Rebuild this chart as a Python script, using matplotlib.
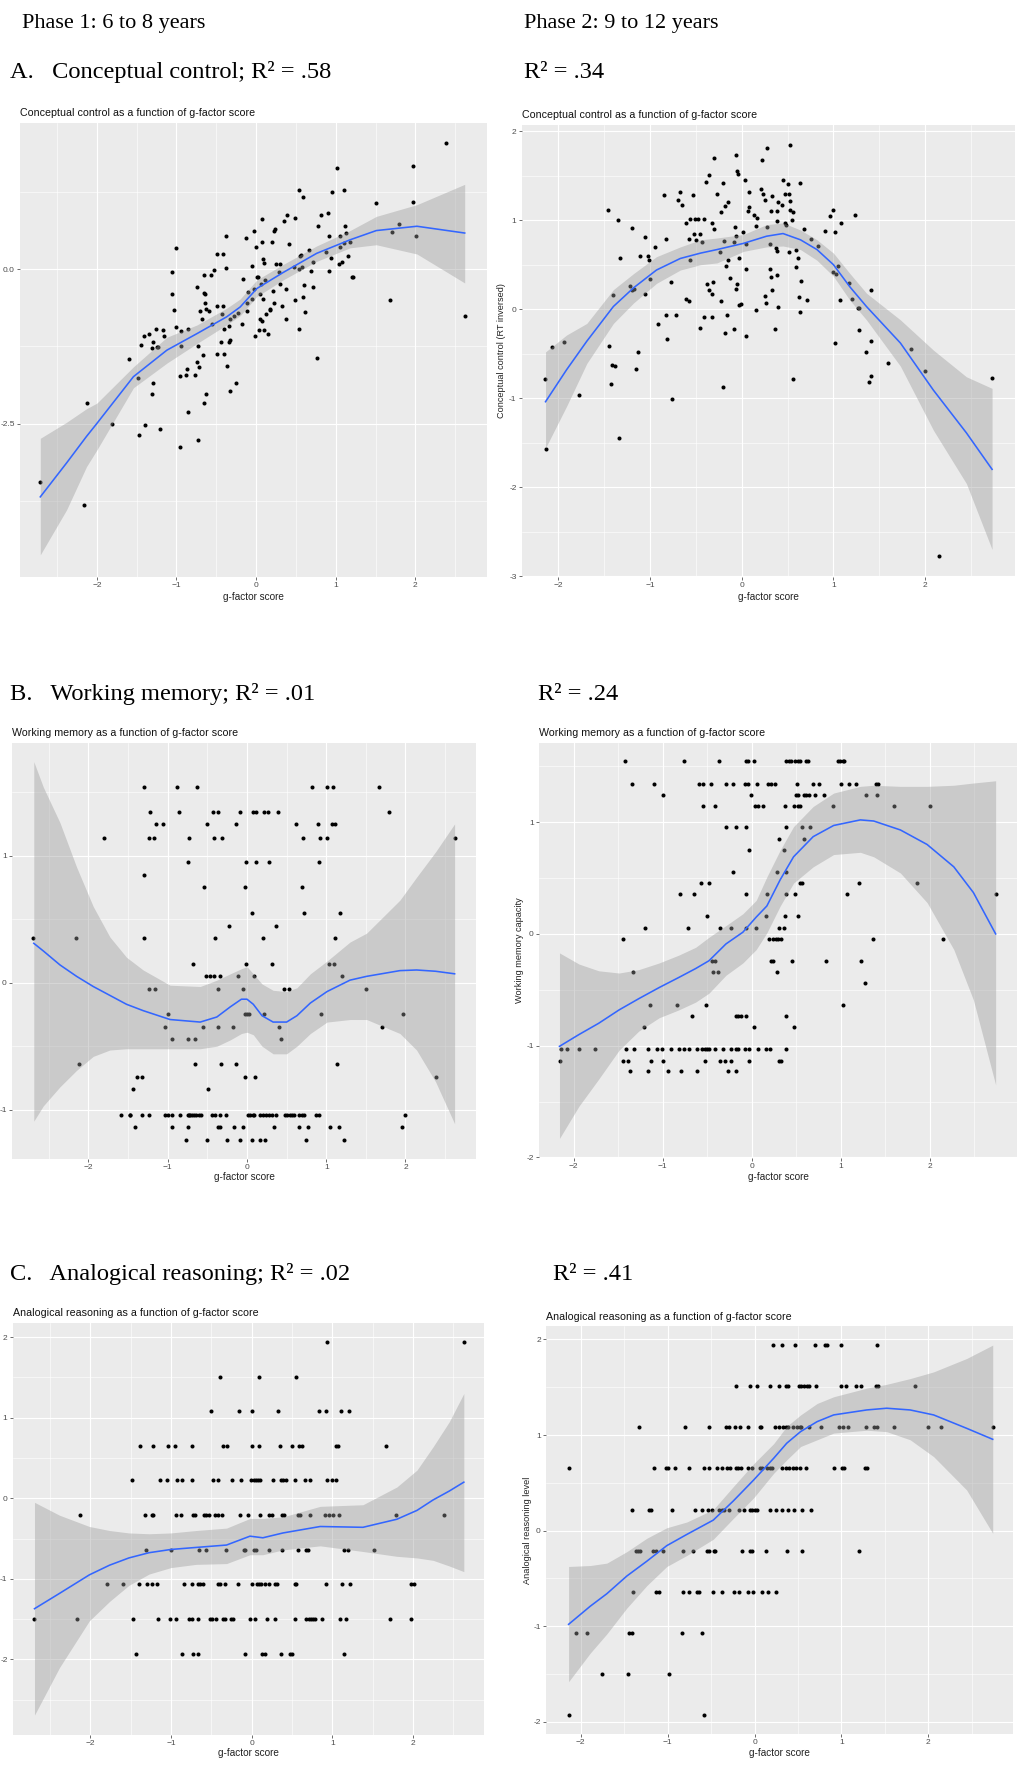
import numpy as np
import matplotlib
matplotlib.use("Agg")
import matplotlib.pyplot as plt
from matplotlib.ticker import FixedLocator

W, H = 1019, 1785

# ---------------- A, phase 1 : conceptual control ----------------
cc1_x = [2.39, 1.01, 1.97, 0.54, 0.95, 1.10, 0.59, 1.51, 1.97, 0.07,
         0.35, 0.39, 0.49, 0.81, 0.90, 0.78, 1.12, 1.79, 1.71, 2.01,
         -0.02, 0.22, 0.24, -0.13, -0.38, 0.08, 0.20, 0.41, 0.92, 1.06,
         1.13, -1.00, 0.00, 0.09, 0.10, -0.49, -0.41, 0.67, 0.57, 0.55,
         0.72, 0.88, 0.94, 1.05, 1.11, 1.18, 1.16, 1.08, 1.04, 1.20,
         1.22, 0.91, 0.69, 0.58, 0.54, 0.47, 0.25, 0.30, 0.29, -0.05,
         0.01, 0.03, -0.17, 0.11, -0.38, -0.53, -0.57, -0.65, -1.05, -1.06,
         -1.03, -0.74, -0.66, -0.64, -0.64, -0.63, -0.70, -0.59, -0.68, -0.49,
         -0.42, -0.43, -0.55, 0.06, -0.02, -0.10, -0.05, 0.05, 0.09, 0.21,
         0.22, 0.17, 0.18, 0.13, 0.05, 0.07, -0.12, -0.18, -0.23, -0.28,
         -0.33, -0.40, -0.34, 0.10, 0.15, -0.01, 0.04, 0.30, 0.33, 0.37,
         0.37, 0.49, 0.54, 0.59, 0.62, 0.60, 0.71, 1.68, 2.62, 0.76,
         -0.85, -0.94, -1.00, -0.94, -1.26, -1.17, -1.16, -1.34, -1.41, -1.44,
         -1.30, -1.31, -1.25, -1.23, -0.44, -0.33, -0.34, -0.49, -0.40, -0.73,
         -0.67, -0.74, -0.72, -0.36, -0.87, -0.88, -0.95, -0.77, -1.60, -1.48,
         -1.30, -1.31, -0.25, -0.33, -0.63, -0.65, -0.86, -2.12, -1.81, -1.39,
         -1.47, -1.21, -0.73, -0.95, -2.71, -2.16, -0.12]
cc1_y = [2.05, 1.65, 1.68, 1.28, 1.25, 1.28, 1.18, 1.07, 1.10, 0.82,
         0.78, 0.89, 0.84, 0.89, 0.91, 0.71, 0.70, 0.73, 0.61, 0.54,
         0.63, 0.62, 0.66, 0.51, 0.54, 0.44, 0.45, 0.42, 0.54, 0.54,
         0.59, 0.34, 0.37, 0.17, 0.10, 0.25, 0.25, 0.31, 0.23, 0.21,
         0.12, 0.28, 0.18, 0.36, 0.43, 0.45, 0.22, 0.12, 0.08, -0.12,
         -0.12, -0.03, -0.03, 0.04, 0.00, 0.04, 0.09, 0.09, -0.05, 0.05,
         -0.12, -0.12, -0.16, -0.18, 0.02, -0.01, -0.09, -0.09, -0.04, -0.40,
         -0.66, -0.28, -0.39, -0.40, -0.54, -0.64, -0.68, -0.68, -0.81, -0.59,
         -0.59, -0.72, -0.88, -0.23, -0.31, -0.36, -0.48, -0.40, -0.48, -0.35,
         -0.55, -0.66, -0.64, -0.72, -0.81, -0.84, -0.68, -0.89, -0.70, -0.76,
         -0.81, -0.96, -0.92, -0.99, -1.05, -1.08, -0.99, -0.24, -0.59, -0.32,
         -0.81, -0.50, -0.96, -0.44, -0.69, -0.26, -0.29, -0.50, -0.76, -1.44,
         -0.97, -1.00, -0.93, -1.24, -0.96, -0.99, -1.08, -1.05, -1.08, -1.22,
         -1.18, -1.27, -1.26, -1.26, -1.18, -1.15, -1.17, -1.38, -1.37, -1.25,
         -1.39, -1.51, -1.59, -1.56, -1.62, -1.72, -1.73, -1.71, -1.46, -1.76,
         -1.85, -2.02, -1.85, -1.98, -2.02, -2.16, -2.31, -2.16, -2.50, -2.52,
         -2.68, -2.59, -2.76, -2.88, -3.45, -3.82, -0.55]
cc1_fit_x = [-2.71, -2.38, -2.13, -2.00, -1.54, -1.12, -0.74, -0.37, -0.20, 0.01, 0.34,
             0.76, 1.18, 1.51, 2.02, 2.62]
cc1_fit_y = [-3.69, -3.14, -2.71, -2.50, -1.74, -1.31, -1.04, -0.77, -0.61, -0.31, -0.05,
             0.26, 0.48, 0.63, 0.70, 0.59]
cc1_fit_lo = [-4.63, -3.90, -3.20, -2.93, -1.92, -1.52, -1.20, -0.90, -0.75, -0.44, -0.17,
              0.13, 0.35, 0.40, 0.25, -0.22]
cc1_fit_hi = [-2.74, -2.48, -2.26, -2.17, -1.58, -1.10, -0.90, -0.63, -0.48, -0.17, 0.08,
              0.38, 0.63, 0.86, 1.05, 1.38]

# ---------------- A, phase 2 : conceptual control ----------------
cc2_x = [0.53, 0.27, -0.30, -0.06, 0.22, -0.05, -0.04, -0.36, -0.39, 0.03,
         0.45, 0.50, 0.63, -0.21, -0.27, -0.67, -0.70, -0.65, -0.85, -0.53,
         0.21, 0.23, 0.25, 0.33, 0.39, 0.44, 0.51, 0.47, 0.53, 0.53,
         0.56, 0.55, 0.08, 0.08, 0.07, -0.15, -0.18, -0.23, -1.46, 0.13,
         0.17, 0.38, 0.32, 0.38, -0.56, -0.51, -0.48, -0.41, -0.61, -0.33,
         -1.35, -1.20, -0.52, -0.46, -0.30, -0.07, -0.06, 0.01, 0.16, 0.27,
         0.47, 0.48, 0.68, 0.91, 1.02, 1.00, 0.96, 1.08, 1.23, -0.83,
         -0.58, -0.50, -0.43, -0.19, -0.08, 0.05, 0.31, 0.37, 0.38, 0.51,
         0.59, 0.61, 0.75, 0.83, -1.05, -0.95, -1.02, -1.11, -1.01, -1.33,
         -0.56, -0.24, -0.15, -0.17, -0.03, 0.05, 0.31, 0.59, 1.05, 0.99,
         1.03, -1.00, -0.77, -0.13, 0.32, 0.38, -0.31, -0.38, 0.65, -0.05,
         1.17, -1.22, -1.18, -1.20, 1.41, -0.36, -0.33, 0.33, -1.40, -1.06,
         -0.06, 0.25, 0.62, -0.61, -0.57, -0.23, 0.26, 0.71, 1.07, 1.20,
         -0.03, -0.01, 0.15, 0.39, 1.27, 1.28, -0.83, -0.72, -0.41, -0.33,
         -0.16, 0.63, -0.91, -0.46, -0.09, -0.18, 0.05, 0.36, 1.28, -0.81,
         1.41, 1.02, -2.07, -1.94, -1.45, -1.13, 1.36, 1.85, -1.42, -1.38,
         -1.15, 1.59, 2.00, 1.41, 1.39, -1.43, -2.15, 0.56, 2.73, -0.21,
         -1.77, -0.76, -1.34, -2.14, 2.15]
cc2_y = [1.84, 1.81, 1.70, 1.73, 1.68, 1.55, 1.52, 1.51, 1.43, 1.45,
         1.45, 1.41, 1.42, 1.42, 1.30, 1.32, 1.23, 1.17, 1.28, 1.28,
         1.35, 1.30, 1.23, 1.27, 1.20, 1.17, 1.30, 1.30, 1.22, 1.12,
         1.09, 1.00, 1.32, 1.15, 1.10, 1.20, 1.16, 1.09, 1.12, 1.06,
         1.03, 1.10, 1.10, 0.99, 1.01, 1.01, 1.01, 1.01, 0.97, 0.97,
         1.00, 0.91, 0.84, 0.84, 0.90, 0.92, 0.82, 0.87, 0.94, 0.92,
         0.97, 0.95, 0.90, 0.88, 0.87, 1.11, 1.05, 0.97, 1.06, 0.79,
         0.79, 0.78, 0.75, 0.77, 0.75, 0.73, 0.73, 0.69, 0.65, 0.64,
         0.66, 0.58, 0.79, 0.71, 0.81, 0.70, 0.60, 0.60, 0.55, 0.57,
         0.55, 0.64, 0.55, 0.49, 0.57, 0.45, 0.45, 0.47, 0.48, 0.42,
         0.39, 0.34, 0.31, 0.35, 0.36, 0.38, 0.30, 0.28, 0.32, 0.28,
         0.29, 0.26, 0.23, 0.22, 0.22, 0.21, 0.17, 0.22, 0.16, 0.17,
         0.23, 0.15, 0.14, 0.11, 0.09, 0.09, 0.07, 0.10, 0.10, 0.12,
         0.05, 0.06, -0.01, 0.03, 0.01, 0.01, -0.06, -0.06, -0.09, -0.09,
         -0.06, -0.03, -0.17, -0.21, -0.22, -0.27, -0.30, -0.22, -0.23, -0.34,
         -0.36, -0.38, -0.42, -0.37, -0.41, -0.48, -0.48, -0.45, -0.63, -0.64,
         -0.67, -0.61, -0.69, -0.75, -0.82, -0.84, -0.79, -0.79, -0.77, -0.87,
         -0.96, -1.01, -1.45, -1.57, -2.77]
cc2_fit_x = [-2.14, -1.91, -1.69, -1.40, -1.18, -0.93, -0.67, -0.45, -0.27, 0.02, 0.27,
             0.45, 0.64, 0.82, 1.00, 1.18, 1.36, 1.73, 2.09, 2.45, 2.73]
cc2_fit_y = [-1.04, -0.68, -0.36, 0.03, 0.24, 0.44, 0.57, 0.63, 0.67, 0.74, 0.82,
             0.85, 0.78, 0.67, 0.50, 0.25, 0.03, -0.38, -0.91, -1.39, -1.80]
cc2_fit_lo = [-1.56, -1.09, -0.61, -0.16, 0.07, 0.29, 0.44, 0.50, 0.52, 0.65, 0.70,
              0.71, 0.67, 0.55, 0.37, 0.10, -0.12, -0.64, -1.36, -1.96, -2.70]
cc2_fit_hi = [-0.48, -0.29, -0.16, 0.22, 0.40, 0.59, 0.70, 0.78, 0.80, 0.84, 0.95,
              0.97, 0.89, 0.78, 0.63, 0.40, 0.18, -0.12, -0.46, -0.76, -0.89]

# ---------------- B, phase 1 : working memory ----------------
wm1_levels = [1.54, 1.34, 1.25, 1.14, 0.95, 0.85, 0.75, 0.55, 0.45, 0.35, 0.15,
              0.05, -0.05, -0.25, -0.35, -0.44, -0.64, -0.74, -0.84, -1.04, -1.14, -1.24]
wm1_xs = [
    [-1.30, -0.88, -0.63, 0.82, 1.01, 1.08, 1.67],
    [-1.22, -0.86, -0.43, -0.37, -0.09, 0.08, 0.11, 0.21, 0.26, 0.39, 1.79],
    [-1.15, -1.06, -0.50, -0.14, 0.62, 0.90, 1.07, 1.11],
    [-1.80, -1.24, -1.17, -0.73, -0.42, -0.31, 0.71, 0.92, 1.01, 2.62],
    [-0.74, -0.01, 0.12, 0.28, 0.91],
    [-1.30],
    [-0.54, -0.02, 0.69],
    [0.06, 0.72, 1.17],
    [-0.23, 0.37],
    [-2.70, -2.16, -1.30, -0.40, 0.20, 1.11],
    [-0.68, -0.01, 0.32, 1.03, 1.10],
    [-0.52, -0.47, -0.42, -0.34, -0.11, 0.09, 1.20],
    [-1.24, -1.16, -0.36, -0.05, 0.47, 0.53, 1.50],
    [-1.00, -0.03, 0.00, 0.03, 0.21, 0.94, 1.97],
    [-1.03, -0.55, -0.37, -0.18, 0.40, 1.70],
    [-0.94, -0.75, -0.66, 0.43],
    [-2.12, -0.65, -0.33, -0.14, 1.13],
    [-1.39, -1.32, -0.02, 0.10, 2.38],
    [-1.44, -0.49],
    [-1.59, -1.48, -1.47, -1.32, -1.23, -1.03, -1.00, -0.95, -0.85, -0.75, -0.73,
     -0.72, -0.69, -0.67, -0.64, -0.61, -0.58, -0.44, -0.40, -0.34, -0.26, 0.01,
     0.04, 0.07, 0.09, 0.17, 0.20, 0.24, 0.28, 0.31, 0.37, 0.48, 0.51, 0.54,
     0.57, 0.59, 0.66, 0.69, 0.72, 0.87, 0.91, 2.00],
    [-1.41, -0.94, -0.74, -0.37, -0.34, -0.16, -0.05, 0.34, 0.66, 0.77, 1.05, 1.16, 1.96],
    [-0.77, -0.50, -0.25, -0.09, 0.06, 0.17, 0.23, 0.75, 1.22],
]
wm1_fit_x = [-2.69, -2.57, -2.36, -2.15, -1.94, -1.73, -1.52, -1.31, -0.97, -0.59, -0.38,
             -0.21, -0.07, 0.00, 0.08, 0.19, 0.33, 0.50, 0.63, 0.80, 1.01, 1.30, 1.51,
             1.93, 2.14, 2.38, 2.62]
wm1_fit_y = [0.31, 0.25, 0.14, 0.05, -0.03, -0.10, -0.17, -0.22, -0.29, -0.31, -0.27,
             -0.19, -0.13, -0.13, -0.17, -0.26, -0.31, -0.31, -0.26, -0.16, -0.07, 0.02, 0.05,
             0.095, 0.10, 0.09, 0.07]
wm1_fit_lo = [-1.09, -0.97, -0.82, -0.69, -0.58, -0.53, -0.52, -0.52, -0.52, -0.52, -0.50,
              -0.45, -0.40, -0.39, -0.41, -0.50, -0.56, -0.56, -0.50, -0.40, -0.31, -0.29, -0.29,
              -0.40, -0.53, -0.78, -1.11]
wm1_fit_hi = [1.74, 1.54, 1.26, 0.91, 0.60, 0.36, 0.20, 0.10, -0.02, -0.03, 0.02,
              0.07, 0.11, 0.126, 0.07, -0.01, -0.06, -0.07, -0.04, 0.07, 0.17, 0.32, 0.39,
              0.65, 0.83, 1.03, 1.25]

# ---------------- B, phase 2 : working memory ----------------
wm2_levels = [1.545, 1.342, 1.247, 1.146, 0.952, 0.848, 0.75, 0.554, 0.455, 0.357, 0.158,
              0.057, -0.042, -0.241, -0.339, -0.435, -0.637, -0.738, -0.836, -1.033, -1.134, -1.229]
wm2_xs = [
    [-1.42, -0.76, -0.37, -0.06, -0.04, 0.03, 0.39, 0.42, 0.44, 0.49, 0.52, 0.54,
     0.61, 0.63, 0.97, 0.99, 1.02, 1.04],
    [-1.34, -1.10, -0.59, -0.55, -0.46, -0.29, -0.21, -0.08, -0.04, 0.06, 0.18, 0.22,
     0.26, 0.51, 0.69, 0.75, 1.00, 1.09, 1.17, 1.40, 1.42],
    [-1.00, -0.01, 0.50, 0.52, 0.59, 0.61, 0.64, 0.71, 0.81, 1.28, 1.41],
    [-0.55, -0.41, 0.04, 0.07, 0.13, 0.37, 0.47, 0.52, 0.54, 0.91, 1.60, 2.00],
    [-0.29, -0.18, -0.07, 0.39, 0.57, 0.65],
    [0.31, 0.59],
    [-0.03, 0.36],
    [-0.21, 0.28, 0.39],
    [-0.57, -0.48, 0.54, 0.56, 1.20, 1.86],
    [-0.81, -0.65, -0.06, 0.17, 0.39, 0.49, 1.07, 2.74],
    [-0.50, 0.16, 0.37, 0.52],
    [-1.20, -0.72, -0.36, -0.23, -0.06, 0.05, 0.31, 0.36],
    [-1.45, 0.19, 0.24, 0.27, 0.29, 0.33, 1.36, 2.15],
    [-0.45, -0.41, 0.22, 0.24, 0.45, 0.83, 1.23],
    [-1.33, -0.43, -0.38, 0.28],
    [1.27],
    [-1.14, -0.84, -0.51, 1.02],
    [-0.67, -0.18, -0.15, -0.12, -0.06, 0.39],
    [-1.21, 0.03, 0.47],
    [-2.14, -2.07, -1.94, -1.76, -1.41, -1.32, -1.17, -1.06, -1.01, -0.91, -0.82,
     -0.76, -0.70, -0.61, -0.56, -0.52, -0.50, -0.48, -0.41, -0.32, -0.23, -0.18,
     -0.15, -0.08, -0.03, 0.07, 0.16, 0.21, 0.39],
    [-2.15, -1.45, -1.39, -1.13, -1.00, -0.53, -0.36, -0.30, -0.23, -0.03, 0.31, 0.33],
    [-1.37, -1.16, -0.94, -0.80, -0.61, -0.27, -0.18],
]
wm2_fit_x = [-2.16, -1.94, -1.72, -1.49, -1.27, -1.04, -0.82, -0.63, -0.48, -0.29, -0.10,
             0.05, 0.17, 0.32, 0.47, 0.69, 0.92, 1.22, 1.37, 1.67, 1.97, 2.27, 2.49, 2.74]
wm2_fit_y = [-1.006, -0.90, -0.80, -0.68, -0.58, -0.48, -0.39, -0.31, -0.24, -0.09, 0.015,
             0.15, 0.25, 0.485, 0.69, 0.87, 0.97, 1.02, 1.01, 0.93, 0.80, 0.60, 0.37, 0.00]
wm2_fit_lo = [-1.83, -1.54, -1.30, -1.04, -0.87, -0.75, -0.68, -0.61, -0.53, -0.37, -0.26,
              -0.14, 0.01, 0.25, 0.455, 0.60, 0.71, 0.73, 0.69, 0.545, 0.28, -0.14, -0.59, -1.35]
wm2_fit_hi = [-0.17, -0.27, -0.33, -0.35, -0.32, -0.26, -0.19, -0.12, -0.03, 0.074, 0.18,
              0.30, 0.51, 0.75, 0.96, 1.14, 1.26, 1.32, 1.33, 1.32, 1.32, 1.33, 1.35, 1.37]

# ---------------- C, phase 1 : analogical reasoning ----------------
ar1_levels = [1.944, 1.51, 1.084, 0.649, 0.227, -0.211, -0.641, -1.067, -1.501, -1.931]
ar1_xs = [
    [0.93, 2.63],
    [-0.39, 0.09, 0.55],
    [-0.50, -0.16, 0.00, 0.33, 0.83, 0.92, 1.11, 1.21],
    [-1.38, -1.22, -1.03, -0.95, -0.74, -0.36, -0.31, 0.00, 0.09, 0.35, 0.50, 0.59,
     0.62, 1.05, 1.07, 1.67],
    [-1.48, -1.14, -1.05, -0.93, -0.86, -0.74, -0.48, -0.41, -0.24, -0.13, -0.01, 0.03,
     0.06, 0.08, 0.10, 0.27, 0.36, 0.39, 0.43, 0.54, 0.66, 0.73, 0.93, 1.00, 1.04],
    [-2.12, -1.32, -1.24, -1.22, -0.94, -0.88, -0.73, -0.70, -0.59, -0.56, -0.53, -0.45,
     -0.41, -0.37, -0.14, -0.05, 0.10, 0.22, 0.25, 0.38, 0.40, 0.57, 0.60, 0.72, 0.91,
     0.96, 1.01, 1.08, 1.79, 2.39],
    [-1.31, -1.00, -0.65, -0.57, -0.32, -0.10, -0.08, 0.03, 0.06, 0.21, 0.38, 0.57,
     0.68, 0.70, 1.14, 1.19, 1.52],
    [-1.79, -1.59, -1.40, -1.30, -1.24, -1.17, -0.84, -0.74, -0.67, -0.64, -0.60, -0.42,
     -0.39, -0.33, -0.17, 0.00, 0.07, 0.09, 0.12, 0.17, 0.21, 0.29, 0.32, 0.54, 0.55,
     0.92, 1.12, 1.22, 1.97, 2.01],
    [-2.69, -2.16, -1.47, -1.16, -1.01, -0.94, -0.77, -0.74, -0.66, -0.52, -0.49, -0.44,
     -0.36, -0.33, -0.26, -0.23, -0.02, 0.04, 0.19, 0.29, 0.54, 0.67, 0.71, 0.74, 0.76,
     0.78, 0.87, 1.10, 1.17, 1.71, 1.98],
    [-1.43, -0.86, -0.72, -0.66, -0.08, 0.13, 0.17, 0.37, 0.47, 0.50, 1.14],
]
ar1_fit_x = [-2.69, -2.38, -2.01, -1.76, -1.52, -1.27, -1.00, -0.69, -0.31, -0.02, 0.14,
             0.39, 0.85, 1.38, 1.80, 2.05, 2.25, 2.45, 2.63]
ar1_fit_y = [-1.37, -1.18, -0.95, -0.83, -0.74, -0.675, -0.635, -0.61, -0.58, -0.47, -0.49,
             -0.43, -0.35, -0.36, -0.26, -0.15, -0.02, 0.09, 0.20]
ar1_fit_lo = [-2.69, -2.10, -1.52, -1.28, -1.08, -0.94, -0.86, -0.82, -0.81, -0.70, -0.70,
              -0.64, -0.59, -0.66, -0.72, -0.74, -0.77, -0.84, -0.91]
ar1_fit_hi = [-0.05, -0.21, -0.35, -0.40, -0.43, -0.44, -0.43, -0.40, -0.37, -0.25, -0.25,
              -0.23, -0.10, -0.08, 0.14, 0.35, 0.64, 0.95, 1.30]

# ---------------- C, phase 2 : analogical reasoning ----------------
ar2_levels = [1.942, 1.517, 1.081, 0.652, 0.22, -0.209, -0.641, -1.067, -1.503, -1.928]
ar2_xs = [
    [0.21, 0.32, 0.47, 0.69, 0.81, 0.83, 1.00, 1.41],
    [-0.21, -0.05, 0.03, 0.18, 0.28, 0.36, 0.38, 0.51, 0.53, 0.57, 0.60, 0.63, 0.71,
     0.99, 1.05, 1.17, 1.23, 1.40, 1.42, 1.85],
    [-1.33, -0.80, -0.52, -0.33, -0.30, -0.22, -0.17, -0.08, 0.06, 0.07, 0.23, 0.28,
     0.33, 0.36, 0.38, 0.44, 0.49, 0.52, 0.53, 0.63, 0.76, 0.97, 1.02, 1.08, 1.28,
     1.37, 1.41, 1.60, 2.00, 2.15, 2.74],
    [-2.14, -1.16, -1.02, -1.00, -0.91, -0.76, -0.58, -0.53, -0.43, -0.37, -0.32, -0.28,
     -0.21, -0.19, -0.16, -0.08, -0.03, 0.06, 0.09, 0.14, 0.18, 0.20, 0.32, 0.36, 0.40,
     0.44, 0.48, 0.52, 0.59, 0.91, 1.01, 1.03, 1.27, 1.29],
    [-1.41, -1.21, -1.19, -0.95, -0.69, -0.61, -0.54, -0.49, -0.41, -0.38, -0.35, -0.30,
     -0.18, -0.12, -0.05, -0.03, 0.00, 0.03, 0.18, 0.25, 0.31, 0.38, 0.45, 0.54, 0.65],
    [-1.37, -1.34, -1.32, -1.17, -1.14, -1.05, -0.82, -0.71, -0.55, -0.53, -0.47, -0.45,
     -0.14, -0.05, -0.03, 0.13, 0.37, 0.54, 1.20],
    [-1.40, -1.14, -1.10, -0.82, -0.76, -0.66, -0.64, -0.48, -0.37, -0.24, -0.18, -0.07,
     -0.02, 0.08, 0.16, 0.25],
    [-2.06, -1.93, -1.45, -1.41, -0.84, -0.61],
    [-1.76, -1.46, -0.99],
    [-2.14, -0.58],
]
ar2_fit_x = [-2.14, -1.89, -1.70, -1.47, -1.24, -1.01, -0.78, -0.475, -0.245, -0.01, 0.22,
             0.37, 0.53, 0.72, 0.91, 1.29, 1.52, 1.79, 2.06, 2.44, 2.74]
ar2_fit_y = [-0.98, -0.79, -0.66, -0.475, -0.32, -0.157, -0.04, 0.11, 0.31, 0.53, 0.757,
             0.914, 1.036, 1.14, 1.21, 1.262, 1.28, 1.262, 1.21, 1.07, 0.955]
ar2_fit_lo = [-1.58, -1.28, -1.08, -0.81, -0.575, -0.375, -0.26, -0.09, 0.127, 0.344, 0.60,
              0.74, 0.88, 0.95, 1.02, 1.05, 1.035, 0.95, 0.774, 0.425, -0.028]
ar2_fit_hi = [-0.375, -0.365, -0.34, -0.22, -0.08, 0.03, 0.09, 0.22, 0.46, 0.70, 0.91,
              1.09, 1.21, 1.33, 1.40, 1.49, 1.53, 1.59, 1.66, 1.80, 1.94]

# ---------------- texts ----------------
phase_titles = ["Phase 1: 6 to 8 years", "Phase 2: 9 to 12 years"]
row_left = ["A.   Conceptual control; R\u00b2 = .58",
            "B.   Working memory; R\u00b2 = .01",
            "C.   Analogical reasoning; R\u00b2 = .02"]
row_right = ["R\u00b2 = .34", "R\u00b2 = .24", "R\u00b2 = .41"]
plot_titles = ["Conceptual control as a function of g-factor score",
               "Working memory as a function of g-factor score",
               "Analogical reasoning as a function of g-factor score"]
ylabels_right = ["Conceptual control (RT inversed)", "Working memory capacity",
                 "Analogical reasoning level"]


def expand(levels, xs):
    x, y = [], []
    for lv, row in zip(levels, xs):
        x += row
        y += [lv] * len(row)
    return x, y


def box(l, t, r, b):
    return [l / W, 1 - b / H, (r - l) / W, (b - t) / H]


SANS = "Liberation Sans"
SERIF = "Liberation Serif"

fig = plt.figure(figsize=(W / 100, H / 100), dpi=100)
fig.patch.set_facecolor("white")


def panel(rect, x, y, fx, fy, flo, fhi, xlim, ylim, yticks, yminor, ytlabels,
          title, title_xy, xlabel_y, ylabel=None, ylabel_x=None):
    ax = fig.add_axes(box(*rect))
    ax.set_facecolor("#EBEBEB")
    for s in ax.spines.values():
        s.set_visible(False)
    ax.set_xlim(*xlim)
    ax.set_ylim(*ylim)
    ax.xaxis.set_major_locator(FixedLocator([-2, -1, 0, 1, 2]))
    ax.xaxis.set_minor_locator(FixedLocator([-2.5, -1.5, -0.5, 0.5, 1.5, 2.5]))
    ax.yaxis.set_major_locator(FixedLocator(yticks))
    ax.yaxis.set_minor_locator(FixedLocator(yminor))
    ax.set_yticklabels(ytlabels)
    ax.grid(which="major", color="white", lw=0.8)
    ax.grid(which="minor", color="white", lw=0.4)
    ax.set_axisbelow(True)
    ax.tick_params(which="major", length=2.2, width=0.5, color="#333333",
                   labelsize=6, labelcolor="#4D4D4D", pad=1.5)
    ax.tick_params(which="minor", length=0)
    for lab in ax.get_xticklabels() + ax.get_yticklabels():
        lab.set_family(SANS)
    ax.scatter(x, y, s=8.5, color="black", linewidths=0, zorder=2)
    ax.fill_between(fx, flo, fhi, color="#999999", alpha=0.4, lw=0, zorder=3)
    ax.plot(fx, fy, color="#3366FF", lw=1.15, zorder=4)
    l, t, r, b = rect
    fig.text(title_xy[0] / W, 1 - title_xy[1] / H, title, family=SANS, fontsize=7.7,
             color="#111111", va="baseline", ha="left")
    fig.text(((l + r) / 2) / W, 1 - xlabel_y / H, "g-factor score", family=SANS,
             fontsize=7.2, color="#222222", va="center", ha="center")
    if ylabel:
        fig.text(ylabel_x / W, 1 - ((t + b) / 2) / H, ylabel, family=SANS,
                 fontsize=6.6, color="#222222", va="center", ha="center", rotation=90)
    return ax


xs_half = [-2.5, -1.5, -0.5, 0.5, 1.5, 2.5]

# row A
panel((20, 123, 487, 577), cc1_x, cc1_y, cc1_fit_x, cc1_fit_y, cc1_fit_lo, cc1_fit_hi,
      (-2.965, 2.90), (-4.99, 2.375), [-2.5, 0.0], [-3.75, -1.25, 1.25], ["-2.5", "0.0"],
      plot_titles[0], (20, 116), 597)
panel((521.7, 125, 1015, 577), cc2_x, cc2_y, cc2_fit_x, cc2_fit_y, cc2_fit_lo, cc2_fit_hi,
      (-2.40, 2.98), (-3.01, 2.07), [-3, -2, -1, 0, 1, 2], xs_half[:5],
      ["-3", "-2", "-1", "0", "1", "2"], plot_titles[0], (521.7, 118), 597,
      ylabels_right[0], 502)

# row B
bx, by = expand(wm1_levels, wm1_xs)
panel((12, 743, 476, 1159), bx, by, wm1_fit_x, wm1_fit_y, wm1_fit_lo, wm1_fit_hi,
      (-2.965, 2.89), (-1.388, 1.887), [-1, 0, 1], [-0.5, 0.5, 1.5], ["-1", "0", "1"],
      plot_titles[1], (12, 736), 1177)
bx, by = expand(wm2_levels, wm2_xs)
panel((539, 743, 1017, 1158), bx, by, wm2_fit_x, wm2_fit_y, wm2_fit_lo, wm2_fit_hi,
      (-2.39, 2.98), (-2.005, 1.708), [-2, -1, 0, 1], [-1.5, -0.5, 0.5, 1.5],
      ["-2", "-1", "0", "1"], plot_titles[1], (539, 736), 1177,
      ylabels_right[1], 520)

# row C
cx, cy = expand(ar1_levels, ar1_xs)
panel((12.7, 1323, 484, 1735), cx, cy, ar1_fit_x, ar1_fit_y, ar1_fit_lo, ar1_fit_hi,
      (-2.96, 2.88), (-2.937, 2.175), [-2, -1, 0, 1, 2], [-2.5, -1.5, -0.5, 0.5, 1.5],
      ["-2", "-1", "0", "1", "2"], plot_titles[2], (13, 1316), 1753)
cx, cy = expand(ar2_levels, ar2_xs)
panel((546, 1326, 1012.7, 1734), cx, cy, ar2_fit_x, ar2_fit_y, ar2_fit_lo, ar2_fit_hi,
      (-2.40, 2.97), (-2.127, 2.14), [-2, -1, 0, 1, 2], [-1.5, -0.5, 0.5, 1.5],
      ["-2", "-1", "0", "1", "2"], plot_titles[2], (546, 1320), 1753,
      ylabels_right[2], 527)

# headings
fig.text(22 / W, 1 - 28 / H, phase_titles[0], family=SERIF, fontsize=16, va="baseline")
fig.text(524 / W, 1 - 28 / H, phase_titles[1], family=SERIF, fontsize=16, va="baseline")
for (txt, yb) in zip(row_left, [78, 700, 1280]):
    fig.text(10 / W, 1 - yb / H, txt, family=SERIF, fontsize=17.6, va="baseline")
for (txt, xx, yb) in zip(row_right, [524, 538, 553], [78, 700, 1280]):
    fig.text(xx / W, 1 - yb / H, txt, family=SERIF, fontsize=17.6, va="baseline")

fig.savefig("out.png", dpi=100)
